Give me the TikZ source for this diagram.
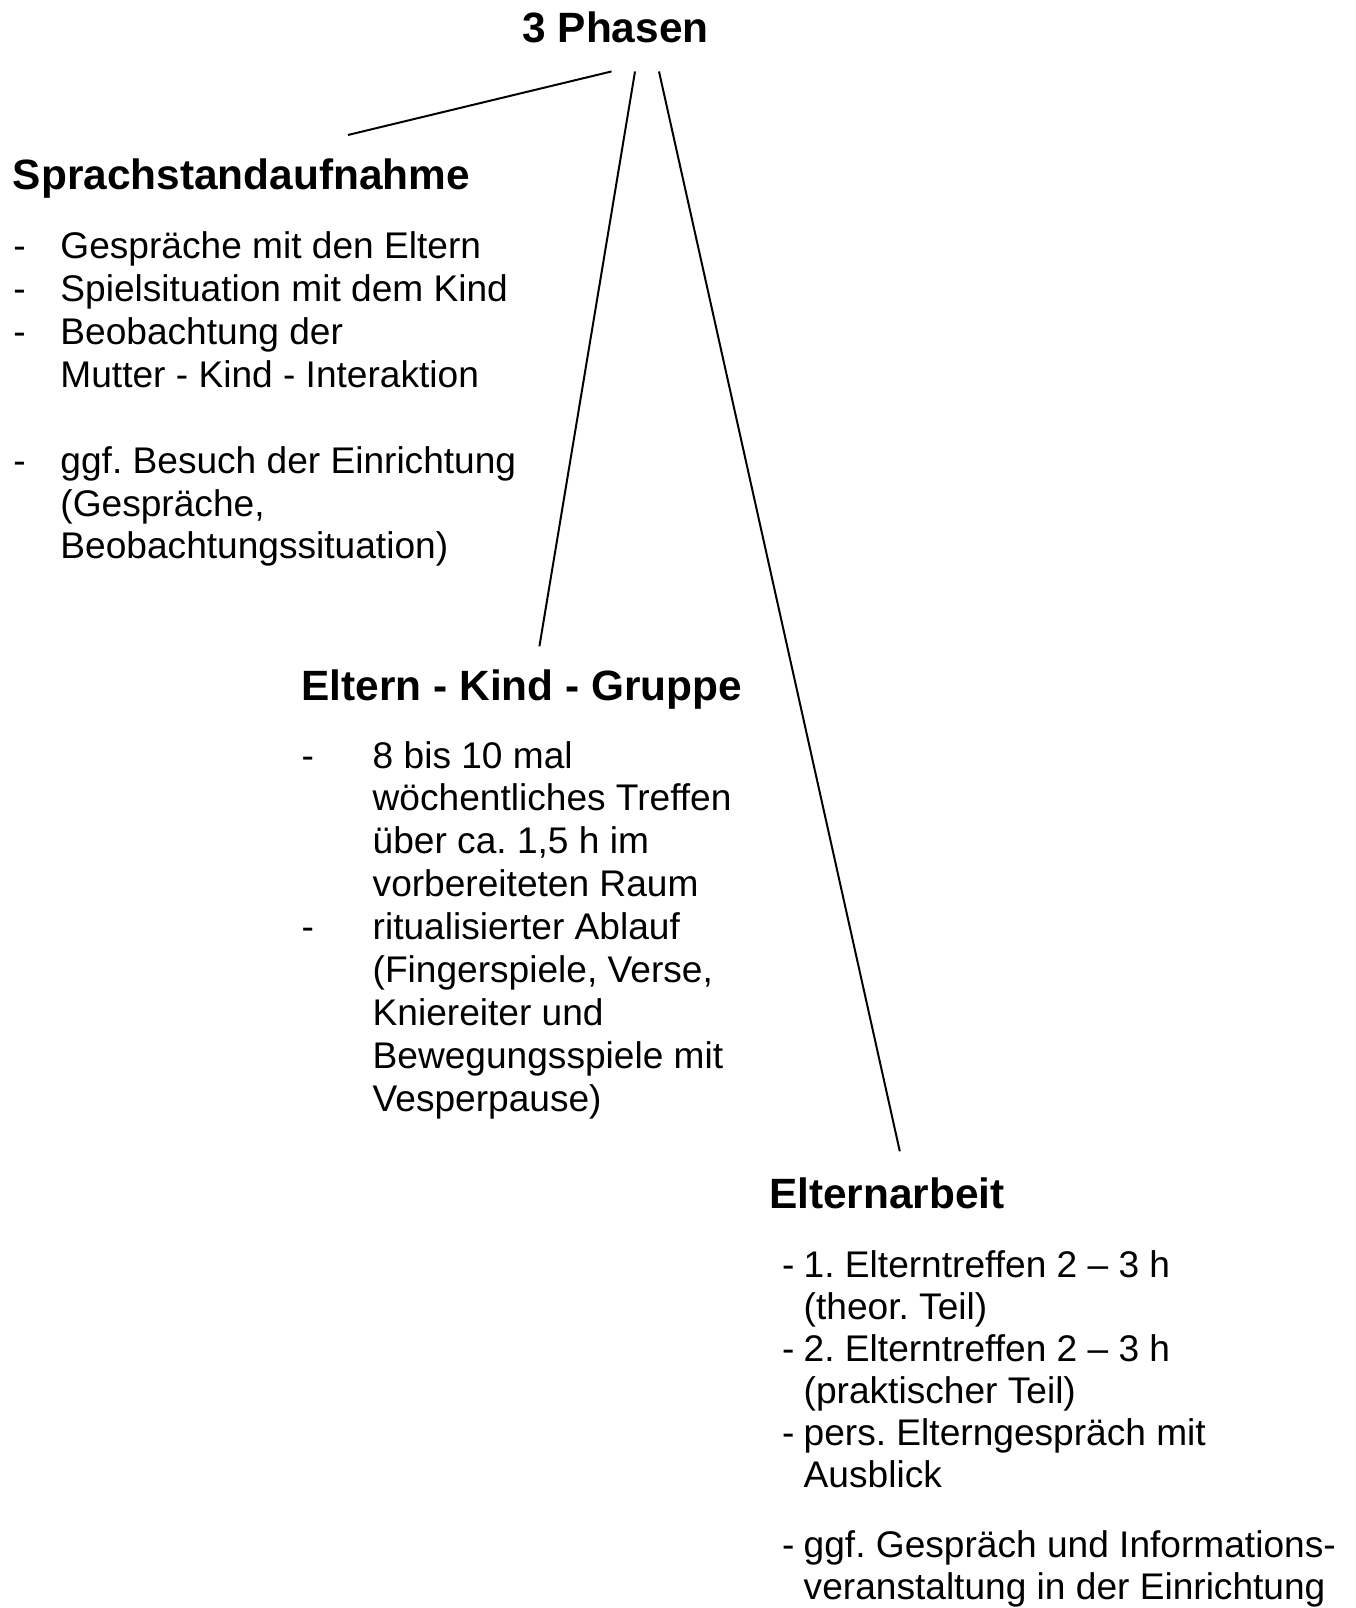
\documentclass[tikz,border=0pt]{standalone}
\usepackage{fontspec}
\setmainfont{Liberation Sans}
\usetikzlibrary{calc}
\frenchspacing

\begin{document}
\begin{tikzpicture}[x=0.3774pt, y=-0.3774pt, line width=0.75pt,
  every node/.style={inner sep=0pt},
  head/.style={font=\fontsize{16}{19}\selectfont\bfseries, anchor=base west},
  body/.style={font=\fontsize{14}{16.2}\selectfont, anchor=base west}]
  \useasboundingbox (0,0) rectangle (1355,1608);
  % headings
  \node[head,anchor=base] (phasen) at (615.5,43) {3 Phasen};
  \node[head] (sprach) at (12,190) {Sprachstandaufnahme};
  \node[head] (ekg) at (300.7,700) {Eltern - Kind - Gruppe};
  \node[head] (earbeit) at (768,1208) {Elternarbeit};
  % lists
  \node[body] (sprachlist) at (12.3,258.5) {\begin{tabular}[t]{@{}p{17.8pt}@{}l@{}}
    - & Gespräche mit den Eltern \\
    - & Spielsituation mit dem Kind \\
    - & Beobachtung der \\
      & Mutter - Kind - Interaktion \\
      & \\
    - & ggf. Besuch der Einrichtung \\
      & (Gespräche, \\
      & Beobachtungssituation)
  \end{tabular}};
  \node[body] (ekglist) at (300.7,768) {\begin{tabular}[t]{@{}p{26.8pt}@{}l@{}}
    - & 8 bis 10 mal \\
      & wöchentliches Treffen \\
      & über ca. 1,5 h im \\
      & vorbereiteten Raum \\
    - & ritualisierter Ablauf \\
      & (Fingerspiele, Verse, \\
      & Kniereiter und \\
      & Bewegungsspiele mit \\
      & Vesperpause)
  \end{tabular}};
  \node[body,font=\fontsize{14}{15.85}\selectfont] (earbeitlist) at (781,1277) {\begin{tabular}[t]{@{}p{8.2pt}@{}l@{}}
    - & 1. Elterntreffen 2 – 3 h \\
      & (theor. Teil) \\
    - & 2. Elterntreffen 2 – 3 h \\
      & (praktischer Teil) \\
    - & pers. Elterngespräch mit \\
      & Ausblick \\[10.6pt]
    - & ggf. Gespräch und Informations- \\
      & veranstaltung in der Einrichtung
  \end{tabular}};
  % connectors
  \draw ($(phasen.south)+(-4,27)$) -- ($(sprach.north)+(106.5,-23.3)$);
  \draw ($(phasen.south)+(19.5,27)$) -- ($(ekg.north)+(17.5,-22)$);
  \draw ($(phasen.south)+(43.5,27)$) -- ($(earbeit.north)+(13,-25)$);
\end{tikzpicture}
\end{document}
